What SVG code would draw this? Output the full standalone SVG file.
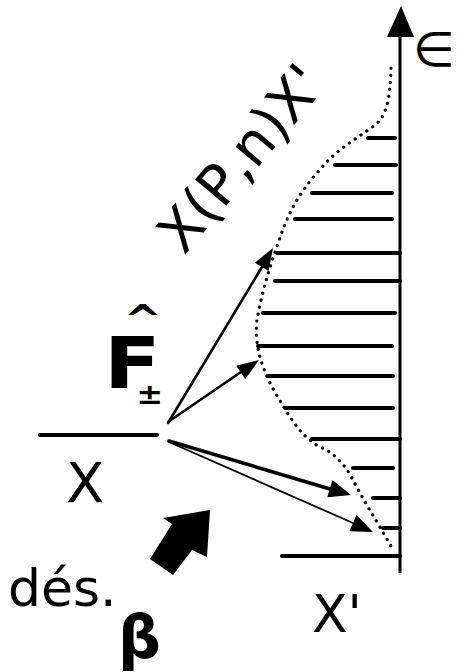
<svg xmlns="http://www.w3.org/2000/svg" width="459" height="672" viewBox="0 0 459 672">
<defs>
<style>
.rung{stroke:#000;stroke-width:4;stroke-linecap:round;fill:none}
.ax{stroke:#000;stroke-width:3;fill:none}
.dot{stroke:#000;stroke-width:3.2;stroke-linecap:round;stroke-dasharray:0.1 7;fill:none}
.arr{stroke:#000;fill:none;stroke-linecap:round}
.head{fill:#000}
.lbl{font-family:"DejaVu Sans","Liberation Sans",sans-serif;fill:#000}
</style>
</defs>
<rect width="459" height="672" fill="#fff"/>
<g id="axis">
<line class="ax" x1="400" y1="30" x2="400" y2="573"/>
<polygon points="401,6 387,37 414,37" fill="#000"/>
</g>
<g id="levels">
<line class="rung" x1="368" y1="138" x2="395" y2="138"/>
<line class="rung" x1="335" y1="165" x2="396" y2="165"/>
<line class="rung" x1="312" y1="193" x2="392" y2="193"/>
<line class="rung" x1="295" y1="219" x2="392" y2="219"/>
<line class="rung" x1="277" y1="253" x2="400" y2="253"/>
<line class="rung" x1="275" y1="281" x2="400" y2="281"/>
<line class="rung" x1="263" y1="313" x2="395" y2="313"/>
<line class="rung" x1="258" y1="346" x2="392" y2="346"/>
<line class="rung" x1="268" y1="376" x2="393" y2="376"/>
<line class="rung" x1="285" y1="408" x2="393" y2="408"/>
<line class="rung" x1="312" y1="439" x2="400" y2="439"/>
<line class="rung" x1="353" y1="468" x2="393" y2="468"/>
<line class="rung" x1="373" y1="498" x2="400" y2="498"/>
<line class="rung" x1="383" y1="528" x2="400" y2="528"/>
<line class="rung" x1="282" y1="556" x2="400" y2="556"/>
<line class="rung" x1="40" y1="435" x2="157" y2="435"/>
</g>
<g id="curve">
<path class="dot" d="M391,68 C390,95 388,115 375,125 C355,140 335,150 318,172 C300,192 290,210 282,232 C272,260 262,290 257,320 C254,345 262,370 275,392 C288,415 300,435 318,446 C333,452 343,462 352,478 C362,498 375,518 392,548"/>
</g>
<g id="connectors">
<line class="arr" x1="168" y1="423" x2="262" y2="267" stroke-width="2.6"/>
<polygon class="head" points="273,248 268.6,271 254.8,262.8"/>
<line class="arr" x1="168" y1="422" x2="241" y2="372" stroke-width="2.6"/>
<polygon class="head" points="259,360 245.3,379 236.3,365.8"/>
<line class="arr" x1="169" y1="441" x2="330" y2="489" stroke-width="3.5"/>
<polygon class="head" points="351,495 327.3,497.3 332.5,480.1"/>
<line class="arr" x1="169" y1="442" x2="353" y2="523" stroke-width="1.8"/>
<polygon class="head" points="373,532 349.3,531.3 356.5,514.9"/>
<polygon points="210,510 163,518 172,524 150,559 173,575 192,550 207,557" fill="#000"/>
</g>
<g id="label-eps"><text class="lbl" x="413" y="66" font-size="48">∈</text></g>
<g id="label-reaction"><text class="lbl" font-size="56" transform="translate(184,256) rotate(-50)">X(P,n)X'</text></g>
<g id="label-F"><text class="lbl" font-weight="bold" transform="translate(104,0) scale(1.15,1)"><tspan x="17" y="334" font-size="40">^</tspan><tspan x="0" y="388" font-size="72">F</tspan><tspan x="28" y="404" font-size="28">±</tspan></text></g>
<g id="label-X"><text class="lbl" x="66" y="502" font-size="56">X</text></g>
<g id="label-X2"><text class="lbl" x="312" y="632" font-size="52">X'</text></g>
<g id="label-des"><text class="lbl" x="8" y="606" font-size="52">dés.</text></g>
<g id="label-beta"><text class="lbl" x="118" y="658" font-size="60" font-weight="bold">β</text></g>
</svg>
